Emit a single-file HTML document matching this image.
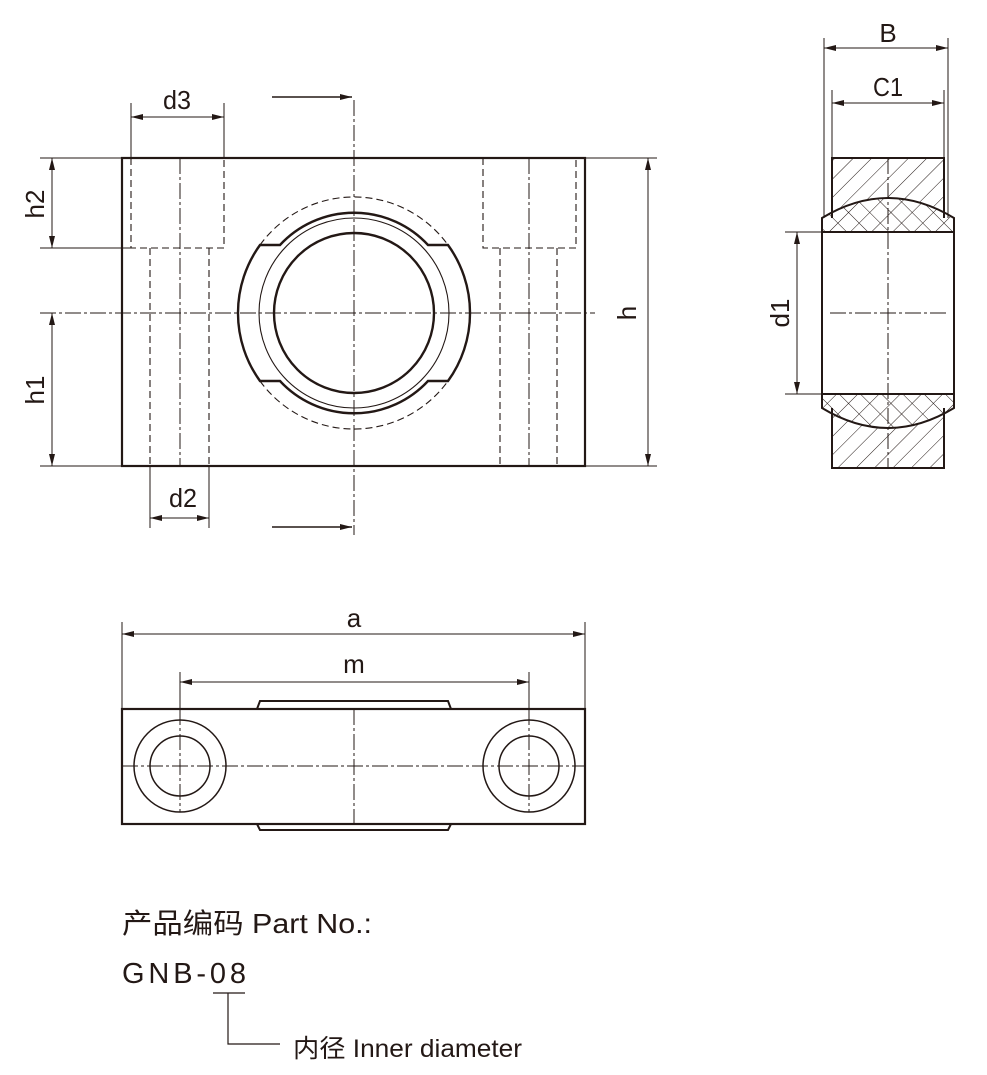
<!DOCTYPE html>
<html><head><meta charset="utf-8"><style>
html,body{margin:0;padding:0;background:#fff;}
svg{display:block;}
text{font-family:"Liberation Sans","Noto Sans CJK SC",sans-serif;fill:#231815;}
</style></head><body>
<svg width="987" height="1075" viewBox="0 0 987 1075" xmlns="http://www.w3.org/2000/svg">
<defs>
<marker id="ar" viewBox="0 0 12 6" refX="12" refY="3" markerWidth="12" markerHeight="6" orient="auto-start-reverse" markerUnits="userSpaceOnUse">
<path d="M0,0 L12,3 L0,6 Z" fill="#231815"/></marker>
<pattern id="hat" patternUnits="userSpaceOnUse" width="13" height="13" patternTransform="rotate(45)">
<line x1="0" y1="0" x2="0" y2="13" stroke="#231815" stroke-width="1"/></pattern>
<pattern id="cross" patternUnits="userSpaceOnUse" width="15" height="15" patternTransform="rotate(45)">
<line x1="0" y1="0" x2="0" y2="15" stroke="#231815" stroke-width="1"/><line x1="0" y1="0" x2="15" y2="0" stroke="#231815" stroke-width="1"/></pattern>
</defs>
<g stroke="#231815" fill="none">
<!-- FRONT VIEW -->
<rect x="122" y="158" width="463" height="308" stroke-width="2.2"/>
<g stroke-width="1.1" stroke-dasharray="7,4">
<path d="M131,158 V248 H224 V158"/>
<path d="M150,248 V466 M209,248 V466"/>
<path d="M483,158 V248 H576 V158"/>
<path d="M500,248 V466 M557,248 V466"/>
<path d="M260,245 A116,116 0 0 1 448,245"/>
<path d="M260,381 A116,116 0 0 0 448,381"/>
</g>
<g stroke-width="1" stroke-dasharray="16,3,3,3">
<path d="M180,158 V466 M529,158 V466"/>
<path d="M40,313 H595"/>
<path d="M354,100 V535"/>
</g>
<!-- bearing -->
<path d="M260,245 A116,116 0 0 0 260,381 H280 A101,101 0 0 0 428,381 H448 A116,116 0 0 0 448,245 H428 A101,101 0 0 0 280,245 Z" stroke-width="2.4"/>
<circle cx="354" cy="313" r="95" stroke-width="1.1"/>
<circle cx="354" cy="313" r="80" stroke-width="2.4"/>
<!-- dims front -->
<g stroke-width="1">
<path d="M131,103 V158 M224,103 V158"/>
<line x1="131" y1="117" x2="224" y2="117" marker-start="url(#ar)" marker-end="url(#ar)"/>
<path d="M40,158 H122 M40,248 H131 M40,466 H122"/>
<line x1="52" y1="158" x2="52" y2="248" marker-start="url(#ar)" marker-end="url(#ar)"/>
<line x1="52" y1="313" x2="52" y2="466" marker-start="url(#ar)" marker-end="url(#ar)"/>
<path d="M150,466 V528 M209,466 V528"/>
<line x1="150" y1="518" x2="209" y2="518" marker-start="url(#ar)" marker-end="url(#ar)"/>
<path d="M585,158 H657 M585,466 H657"/>
<line x1="648" y1="158" x2="648" y2="466" marker-start="url(#ar)" marker-end="url(#ar)"/>
<line x1="272" y1="97" x2="352" y2="97" stroke-width="1.5" marker-end="url(#ar)"/>
<line x1="272" y1="527" x2="352" y2="527" stroke-width="1.5" marker-end="url(#ar)"/>
</g>
<!-- SIDE VIEW -->
<rect x="832" y="158" width="112" height="70" fill="url(#hat)" stroke="none"/>
<rect x="832" y="398" width="112" height="70" fill="url(#hat)" stroke="none"/>
<path d="M822,218 Q888,178 954,218 V232 H822 Z M822,394 H954 V408 Q888,448 822,408 Z" fill="#fff" stroke="none"/>
<path d="M822,218 Q888,178 954,218 V232 H822 Z M822,394 H954 V408 Q888,448 822,408 Z" fill="url(#cross)" stroke="none"/>
<path d="M832,218 V158 H944 V218 M832,408 V468 H944 V408" stroke-width="2"/>
<path d="M822,218 Q888,178 954,218 V408 Q888,448 822,408 Z" stroke-width="2"/>
<path d="M822,232 H954 M822,394 H954" stroke-width="2"/>
<g stroke-width="1" stroke-dasharray="16,3,3,3">
<path d="M888,158 V468 M830,313 H948"/>
</g>
<g stroke-width="1">
<path d="M824,38 V218 M948,38 V218 M832,90 V158 M944,90 V158"/>
<line x1="824" y1="48" x2="948" y2="48" marker-start="url(#ar)" marker-end="url(#ar)"/>
<line x1="832" y1="103" x2="944" y2="103" marker-start="url(#ar)" marker-end="url(#ar)"/>
<path d="M785,232 H822 M785,394 H822"/>
<line x1="797" y1="232" x2="797" y2="394" marker-start="url(#ar)" marker-end="url(#ar)"/>
</g>
<!-- BOTTOM VIEW -->
<path d="M257,709 L260,701 H448 L451,709" stroke-width="2"/>
<path d="M257,824 L260,830 H448 L451,824" stroke-width="2"/>
<rect x="122" y="709" width="463" height="115" stroke-width="2.2"/>
<circle cx="180" cy="766" r="46" stroke-width="1.5"/>
<circle cx="180" cy="766" r="30" stroke-width="1.5"/>
<circle cx="529" cy="766" r="46" stroke-width="1.5"/>
<circle cx="529" cy="766" r="30" stroke-width="1.5"/>
<g stroke-width="1" stroke-dasharray="16,3,3,3">
<path d="M122,766 H585 M354,709 V824 M180,709 V812 M529,709 V812"/>
</g>
<g stroke-width="1">
<path d="M122,622 V709 M585,622 V709 M180,672 V709 M529,672 V709"/>
<line x1="122" y1="634" x2="585" y2="634" marker-start="url(#ar)" marker-end="url(#ar)"/>
<line x1="180" y1="682" x2="529" y2="682" marker-start="url(#ar)" marker-end="url(#ar)"/>
</g>
<!-- legend bracket -->
<path d="M213,993 H245 M228,993 V1044 H280" stroke-width="1.2"/>
</g>
<g font-size="26">
<text x="163" y="109" textLength="28" lengthAdjust="spacingAndGlyphs">d3</text>
<text x="169" y="507" textLength="28" lengthAdjust="spacingAndGlyphs">d2</text>
<text transform="translate(44,204) rotate(-90)" text-anchor="middle">h2</text>
<text transform="translate(44,390) rotate(-90)" text-anchor="middle">h1</text>
<text transform="translate(636,313) rotate(-90)" text-anchor="middle">h</text>
<text x="888" y="42" text-anchor="middle">B</text>
<text x="873" y="96" textLength="30" lengthAdjust="spacingAndGlyphs">C1</text>
<text transform="translate(789,313) rotate(-90)" text-anchor="middle">d1</text>
<text x="354" y="627" text-anchor="middle">a</text>
<text x="354" y="673" text-anchor="middle">m</text>
</g>
<text x="122" y="933" font-size="28" textLength="250" lengthAdjust="spacingAndGlyphs">产品编码 Part No.:</text>
<text x="122" y="983" font-size="29" textLength="124" lengthAdjust="spacing">GNB-08</text>
<text x="293" y="1057" font-size="25" textLength="229" lengthAdjust="spacingAndGlyphs">内径 Inner diameter</text>
</svg>
</body></html>
